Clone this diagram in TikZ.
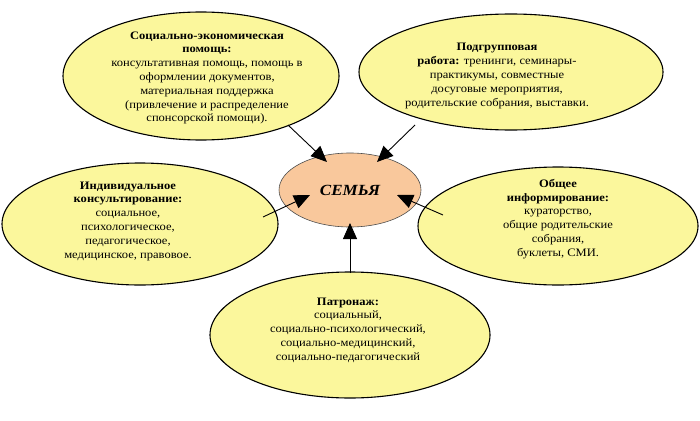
\documentclass[tikz,border=0pt]{standalone}
\usepackage{fontspec}
\setmainfont{Liberation Serif}[FakeStretch=1.1]
\usetikzlibrary{arrows.meta}
\definecolor{ylw}{HTML}{FBF79C}
\definecolor{peach}{HTML}{F9C89C}
\tikzset{
  outerell/.style={fill=ylw, draw=black, line width=1.1pt},
  txt/.style={align=center, font=\fontsize{11.4}{13.8}\selectfont, inner sep=0pt},
  arr/.style={line width=0.9pt, -{Triangle[length=16pt,width=14pt]}}
}
\begin{document}
\begin{tikzpicture}[x=1pt,y=-1pt]
\useasboundingbox (0,0) rectangle (700,420);
% ellipses
\filldraw[outerell] (201,76) ellipse [x radius=138, y radius=64];
\filldraw[outerell] (511,72) ellipse [x radius=152, y radius=58];
\filldraw[outerell] (140,224) ellipse [x radius=138, y radius=61];
\filldraw[outerell] (558,226) ellipse [x radius=140, y radius=59];
\filldraw[outerell] (350,335) ellipse [x radius=140, y radius=63];
\filldraw[fill=peach, draw=black!70, line width=0.6pt] (350,190) ellipse [x radius=71, y radius=37];
% texts
\node[txt] (tl) at (207,78) {\textbf{Социально-экономическая}\\\textbf{помощь:}\\консультативная помощь, помощь в\\оформлении документов,\\материальная поддержка\\(привлечение и распределение\\спонсорской помощи).};
\node[txt] (tr) at (497,76) {\textbf{Подгрупповая}\\\textbf{работа:} тренинги, семинары-\\практикумы, совместные\\досуговые мероприятия,\\родительские собрания, выставки.};
\node[txt] (l) at (128,221) {\textbf{Индивидуальное}\\\textbf{консультирование:}\\социальное,\\психологическое,\\педагогическое,\\медицинское, правовое.};
\node[txt] (r) at (558,219) {\textbf{Общее}\\\textbf{информирование:}\\кураторство,\\общие родительские\\собрания,\\буклеты, СМИ.};
\node[txt] (b) at (348,330) {\textbf{Патронаж:}\\социальный,\\социально-психологический,\\социально-медицинский,\\социально-педагогический};
\node[font=\fontsize{15.5}{18}\selectfont\bfseries\itshape] (c) at (350,190) {СЕМЬЯ};
% arrows
\coordinate (a1s) at (288,125); \coordinate (a1e) at (327,162);
\coordinate (a2s) at (415,125); \coordinate (a2e) at (377,162);
\coordinate (a3s) at (263,217); \coordinate (a3e) at (310,195);
\coordinate (a4s) at (443,215); \coordinate (a4e) at (397,195);
\coordinate (a5s) at (350,273); \coordinate (a5e) at (350,223);
\draw[arr] (a1s) -- (a1e);
\draw[arr] (a2s) -- (a2e);
\draw[arr] (a3s) -- (a3e);
\draw[arr] (a4s) -- (a4e);
\draw[arr] (a5s) -- (a5e);
\end{tikzpicture}
\end{document}
